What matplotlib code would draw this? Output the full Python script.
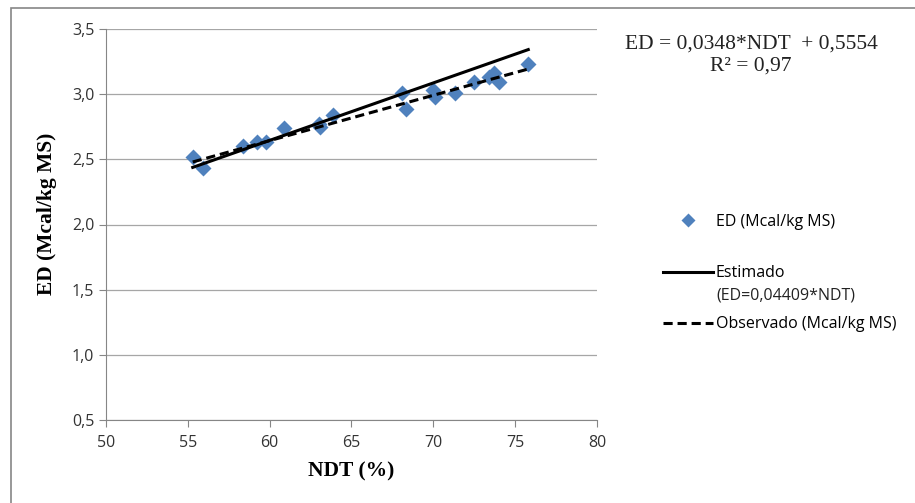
import numpy as np
import matplotlib.pyplot as plt
from matplotlib.patches import Rectangle

# ED vs NDT data
ndt = [55.3, 55.9, 58.4, 59.2, 59.8, 60.9, 63.0, 63.1, 63.9,
       68.1, 68.3, 70.0, 70.1, 71.3, 72.5, 73.4, 73.7, 74.0, 75.8]
ed = [2.52, 2.43, 2.60, 2.63, 2.63, 2.74, 2.77, 2.75, 2.84,
      3.01, 2.89, 3.03, 2.98, 3.01, 3.09, 3.13, 3.16, 3.09, 3.23]

# model / trend coefficients shown on the chart
est_slope = 0.04409
obs_slope, obs_icpt = 0.0348, 0.5554

serif = 'Liberation Serif'
sans = 'Open Sans'

fig = plt.figure(figsize=(9.15, 5.03), dpi=100)
ax = fig.add_axes([106 / 915, 83 / 503, 491 / 915, 391 / 503])

x_line = np.array([min(ndt), max(ndt)])
pts, = ax.plot(ndt, ed, 'D', color='#4F81BD', markersize=8, mec='none',
               zorder=3, label='ED (Mcal/kg MS)')
est, = ax.plot(x_line, est_slope * x_line, color='black', lw=2.2,
               zorder=4, label='Estimado')
obs, = ax.plot(x_line, obs_slope * x_line + obs_icpt, color='black', lw=2.2,
               ls=(0, (3.0, 1.6)), zorder=4, label='Observado (Mcal/kg MS)')

ax.set_xlim(50, 80)
ax.set_ylim(0.5, 3.5)
ax.set_xticks(range(50, 81, 5))
ax.set_yticks(np.arange(0.5, 3.51, 0.5))
ax.set_yticklabels([f'{v:.1f}'.replace('.', ',') for v in np.arange(0.5, 3.51, 0.5)])
ax.grid(axis='y', color='#A6A6A6', lw=0.9)
ax.set_axisbelow(True)
for s in ['top', 'right']:
    ax.spines[s].set_visible(False)
for s in ['left', 'bottom']:
    ax.spines[s].set_color('#868686')
ax.tick_params(colors='#868686', length=5, labelcolor='#333333', labelsize=11.5)
ax.tick_params(axis='x', pad=6)
for lab in ax.get_xticklabels() + ax.get_yticklabels():
    lab.set_fontfamily(sans)

ax.set_xlabel('NDT (%)', fontfamily=serif, fontweight='bold', fontsize=15.5)
ax.set_ylabel('ED (Mcal/kg MS)', fontfamily=serif, fontweight='bold', fontsize=15.5)
ax.xaxis.set_label_coords(0.5, -0.105)
ax.yaxis.set_label_coords(-0.1, 0.527)

# equation text
fig.text(751 / 915, 1 - 44 / 503, 'ED = 0,0348*NDT  + 0,5554', fontfamily=serif,
         fontsize=15.5, ha='center', va='center', color='#222222')
fig.text(751 / 915, 1 - 66 / 503, 'R\u00b2 = 0,97', fontfamily=serif,
         fontsize=15.5, ha='center', va='center', color='#222222')

leg = fig.legend(handles=[pts, est, obs], loc='upper left',
                 bbox_to_anchor=(663 / 915, 1 - 214 / 503), frameon=False,
                 borderpad=0, borderaxespad=0, handlelength=3.1,
                 handletextpad=0.2, labelspacing=2.2, markerscale=0.85,
                 prop={'family': sans, 'size': 11.5})
fig.text(716 / 915, 1 - 296 / 503, '(ED=0,04409*NDT)', fontfamily=sans,
         fontsize=11.5, ha='left', va='center', color='#222222')

# outer chart frame
fig.add_artist(Rectangle((11 / 915, -0.1), 1.2, 1.1 - 8 / 503,
                         transform=fig.transFigure, fill=False,
                         ec='#868686', lw=1.2))

fig.savefig('out.png', dpi=100)
